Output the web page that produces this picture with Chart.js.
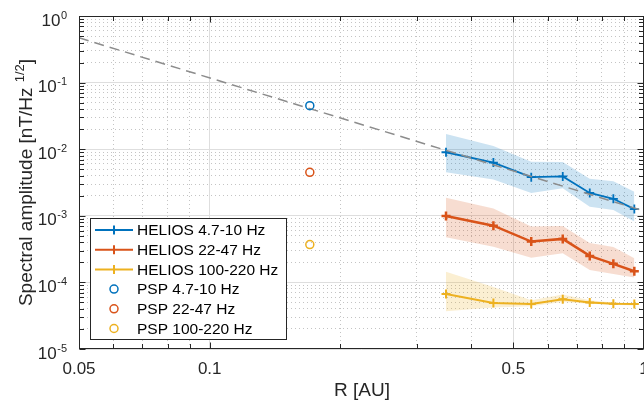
<!DOCTYPE html>
<html>
<head>
<meta charset="utf-8">
<script src="https://cdn.jsdelivr.net/npm/chart.js@4/dist/chart.umd.min.js"></script>
<style>
  html, body { margin: 0; padding: 0; background: #fff; }
  #wrap { width: 644px; height: 402px; }
</style>
</head>
<body>
<div id="wrap"><canvas id="chart" width="644" height="402"></canvas></div>
<script>
// Radial distance bins (AU) and spectral amplitudes (nT/Hz^1/2)
const R_HELIOS = [0.35, 0.45, 0.55, 0.65, 0.75, 0.85, 0.95];
const R_PSP = [0.17];

const heliosLow = [0.009, 0.0063, 0.0038, 0.0039, 0.0022, 0.0018, 0.00126];
const heliosLowUp = [0.0169, 0.0112, 0.0065, 0.0064, 0.0036, 0.0033, 0.0023];
const heliosLowDn = [0.0045, 0.0035, 0.0022, 0.0026, 0.00137, 0.00122, 0.00082];

const heliosMid = [0.00099, 0.00071, 0.00041, 0.00045, 0.00025, 0.00019, 0.000147];
const heliosMidUp = [0.00187, 0.00129, 0.00069, 0.0007, 0.00039, 0.00034, 0.00023];
const heliosMidDn = [0.000475, 0.000343, 0.000235, 0.000273, 0.000153, 0.000134, 0.000118];

const heliosHigh = [6.7e-5, 4.9e-5, 4.75e-5, 5.6e-5, 5.0e-5, 4.8e-5, 4.75e-5];
const heliosHighUp = [1.45e-4, 8.5e-5, 5.4e-5, 6.6e-5, 5.4e-5, 5.0e-5, 4.9e-5];
const heliosHighDn = [3.7e-5, 4.2e-5, 4.4e-5, 5.1e-5, 4.8e-5, 4.6e-5, 4.5e-5];

const pspLow = [0.045];
const pspMid = [0.0045];
const pspHigh = [0.00037];

// R^-2 reference line, end points
const refR = [0.05, 1];
const refAmp = [0.47, 0.00118];

// Axis ticks
const xTicks = [0.05, 0.06, 0.07, 0.08, 0.09, 0.1, 0.2, 0.3, 0.4, 0.5, 0.6, 0.7, 0.8, 0.9, 1];
const xLabels = ['0.05', '0.1', '0.5', '1'];
const xMajor = [0.05, 0.1, 0.5, 1];
const yExp = [0, -1, -2, -3, -4, -5];

const legendLabels = ['HELIOS 4.7-10 Hz', 'HELIOS 22-47 Hz', 'HELIOS 100-220 Hz',
  'PSP 4.7-10 Hz', 'PSP 22-47 Hz', 'PSP 100-220 Hz'];

const BLUE = '#0072BD', ORANGE = '#D95319', YELLOW = '#EDB120';
const INK = '#262626';
const FONT = '"Liberation Sans", Arial, Helvetica, sans-serif';

const yTicks = [];
for (let e = -5; e <= 0; e++) {
  for (let m = 1; m <= 9; m++) {
    if (e === 0 && m > 1) break;
    yTicks.push(Number((m * Math.pow(10, e)).toPrecision(3)));
  }
}

const pts = (xs, ys) => xs.map((x, i) => ({ x, y: ys[i] }));

function band(up, dn, rgba) {
  return [
    { data: pts(R_HELIOS, up), borderWidth: 0, pointRadius: 0, fill: '+1',
      backgroundColor: rgba, order: 10 },
    { data: pts(R_HELIOS, dn), borderWidth: 0, pointRadius: 0, fill: false, order: 10 }
  ];
}

function heliosLine(ys, color, lw, order) {
  return { data: pts(R_HELIOS, ys), borderColor: color, borderWidth: lw, pointStyle: 'cross',
    pointRadius: 4.5, pointBorderWidth: lw, pointBorderColor: color, fill: false, order };
}

function pspPoint(ys, color) {
  return { data: pts(R_PSP, ys), showLine: false, pointStyle: 'circle', pointRadius: 4,
    pointBorderWidth: 1.5, pointBorderColor: color, pointBackgroundColor: 'rgba(0,0,0,0)', order: 0 };
}

const datasets = [
  ...band(heliosLowUp, heliosLowDn, 'rgba(0,114,189,0.2)'),
  ...band(heliosMidUp, heliosMidDn, 'rgba(217,83,25,0.2)'),
  ...band(heliosHighUp, heliosHighDn, 'rgba(237,177,32,0.2)'),
  heliosLine(heliosHigh, YELLOW, 2, 5),
  heliosLine(heliosMid, ORANGE, 2.5, 4),
  heliosLine(heliosLow, BLUE, 1.8, 3),
  { data: pts(refR, refAmp), borderColor: '#8c8c8c', borderWidth: 1.5, borderDash: [10, 6],
    pointRadius: 0, fill: false, order: 1 },
  pspPoint(pspLow, BLUE),
  pspPoint(pspMid, ORANGE),
  pspPoint(pspHigh, YELLOW)
];

const gridColor = c => (c.tick && c.tick.major) ? '#dedede' : '#c4c4c4';
const gridDash = c => (c.tick && !c.tick.major) ? [1, 3] : [];

// frame, inward ticks, labels, titles and legend
const decor = {
  id: 'decor',
  afterDraw(chart) {
    const { ctx, chartArea: a, scales: { x, y } } = chart;
    ctx.save();
    ctx.strokeStyle = INK;
    ctx.lineWidth = 1;
    const L = Math.round(a.left) + 0.5, T = Math.round(a.top) + 0.5;
    const Rt = Math.round(a.right) - 0.5, B = Math.round(a.bottom) - 0.5;
    ctx.strokeRect(L, T, Rt - L, B - T);

    ctx.beginPath();
    x.ticks.forEach(t => {
      const px = Math.round(x.getPixelForValue(t.value)) + 0.5;
      const len = t.major ? 6 : 4.5;
      ctx.moveTo(px, B); ctx.lineTo(px, B - len);
      ctx.moveTo(px, T); ctx.lineTo(px, T + len);
    });
    y.ticks.forEach(t => {
      const py = Math.round(y.getPixelForValue(t.value)) + 0.5;
      const len = t.major ? 6 : 4.5;
      ctx.moveTo(L, py); ctx.lineTo(L + len, py);
      ctx.moveTo(Rt, py); ctx.lineTo(Rt - len, py);
    });
    ctx.stroke();

    // x tick labels
    ctx.fillStyle = INK;
    ctx.font = '17px ' + FONT;
    ctx.textAlign = 'center';
    ctx.textBaseline = 'alphabetic';
    xMajor.forEach((v, i) => {
      ctx.fillText(xLabels[i], x.getPixelForValue(v), 373.5);
    });

    // y tick labels 10^e
    yExp.forEach(e => {
      const py = y.getPixelForValue(Math.pow(10, e));
      const sup = String(e);
      ctx.font = '11px ' + FONT;
      ctx.textAlign = 'right';
      const sw = ctx.measureText(sup).width;
      ctx.fillText(sup, 67, py + 2.5);
      ctx.font = '17px ' + FONT;
      ctx.fillText('10', 67 - sw - 0.5, py + 9.5);
    });

    // x title
    ctx.font = '19px ' + FONT;
    ctx.textAlign = 'center';
    ctx.fillText('R [AU]', 362, 396);

    // y title with superscript
    ctx.save();
    ctx.translate(32, (a.top + a.bottom) / 2);
    ctx.rotate(-Math.PI / 2);
    ctx.textAlign = 'left';
    const p1 = 'Spectral amplitude [nT/Hz ', p2 = '1/2', p3 = ']';
    ctx.font = '19px ' + FONT;
    const w1 = ctx.measureText(p1).width, w3 = ctx.measureText(p3).width;
    ctx.font = '13px ' + FONT;
    const w2 = ctx.measureText(p2).width;
    const sx = -(w1 + w2 + w3) / 2;
    ctx.font = '19px ' + FONT;
    ctx.fillText(p1, sx, 0);
    ctx.font = '13px ' + FONT;
    ctx.fillText(p2, sx + w1, -8);
    ctx.font = '19px ' + FONT;
    ctx.fillText(p3, sx + w1 + w2, 0);
    ctx.restore();

    // legend
    const bx = 90.5, by = 218.5, bw = 196, bh = 121;
    ctx.fillStyle = '#fff';
    ctx.fillRect(bx, by, bw, bh);
    ctx.strokeStyle = INK;
    ctx.lineWidth = 1;
    ctx.strokeRect(bx, by, bw, bh);
    const colors = [BLUE, ORANGE, YELLOW, BLUE, ORANGE, YELLOW];
    ctx.font = '15.5px ' + FONT;
    ctx.textAlign = 'left';
    ctx.textBaseline = 'middle';
    legendLabels.forEach((lab, i) => {
      const cy = 230 + i * 19.7;
      ctx.strokeStyle = colors[i];
      ctx.lineWidth = 2;
      ctx.beginPath();
      if (i < 3) {
        ctx.moveTo(95, cy); ctx.lineTo(133, cy);
        ctx.moveTo(114, cy - 4.5); ctx.lineTo(114, cy + 4.5);
      } else {
        ctx.lineWidth = 1.5;
        ctx.arc(114, cy, 4, 0, Math.PI * 2);
      }
      ctx.stroke();
      ctx.fillStyle = '#000';
      ctx.fillText(lab, 137, cy + 1);
    });
    ctx.restore();
  }
};

new Chart(document.getElementById('chart'), {
  type: 'line',
  data: { datasets },
  options: {
    responsive: false,
    animation: false,
    devicePixelRatio: 1,
    layout: { autoPadding: false, padding: { left: 79, right: -1, top: 16, bottom: 53 } },
    plugins: { legend: { display: false }, tooltip: { enabled: false } },
    elements: { line: { tension: 0 } },
    scales: {
      x: {
        type: 'logarithmic', min: 0.05, max: 1,
        afterBuildTicks: s => { s.ticks = xTicks.map(v => ({ value: v, major: xMajor.includes(v) })); },
        afterFit: s => { s.height = 0; },
        ticks: { display: false },
        grid: { color: gridColor, lineWidth: 1, drawTicks: false },
        border: { display: false, dash: gridDash }
      },
      y: {
        type: 'logarithmic', min: 1e-5, max: 1,
        afterBuildTicks: s => {
          s.ticks = yTicks.map(v => ({ value: v, major: Math.abs(Math.log10(v) - Math.round(Math.log10(v))) < 1e-9 }));
        },
        afterFit: s => { s.width = 0; },
        ticks: { display: false },
        grid: { color: gridColor, lineWidth: 1, drawTicks: false },
        border: { display: false, dash: gridDash }
      }
    }
  },
  plugins: [decor]
});
</script>
</body>
</html>
